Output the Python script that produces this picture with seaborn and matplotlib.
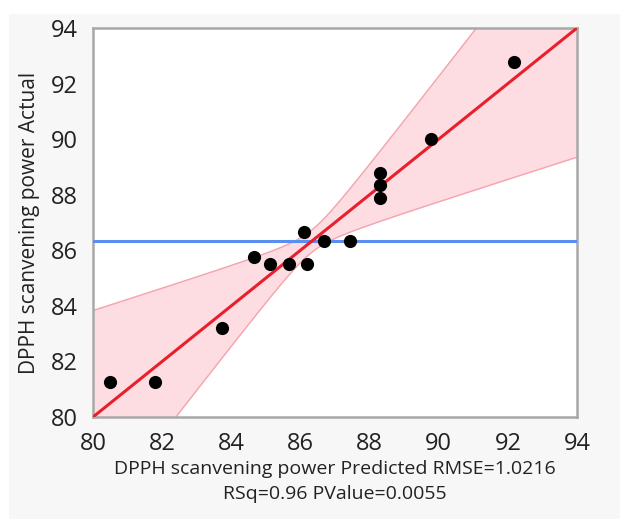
import matplotlib
matplotlib.use('Agg')
import matplotlib.pyplot as plt
import numpy as np
import pandas as pd
import seaborn as sns
from matplotlib.patches import Rectangle

# Data
predicted = [80.50, 81.79, 83.74, 84.65, 85.12, 85.66, 86.10, 86.19,
             86.69, 87.42, 88.31, 88.31, 88.31, 89.79, 92.19]
actual = [81.27, 81.27, 83.22, 85.75, 85.50, 85.50, 86.67, 85.50,
          86.35, 86.35, 88.77, 88.34, 87.87, 90.00, 92.76]
ticks = [80, 82, 84, 86, 88, 90, 92, 94]

# confidence curve shape (half width at center, slope far away)
band_center = 0.4
band_slope = 0.603

df = pd.DataFrame({'pred': predicted, 'act': actual})
lo, hi = ticks[0], ticks[-1]
xm = df['pred'].mean()
ym = df['act'].mean()

sns.set_style('white')
plt.rcParams['font.family'] = ['Open Sans', 'DejaVu Sans']

fig = plt.figure(figsize=(6.2, 5.19), dpi=100)
fig.patches.append(Rectangle((9 / 620, 0), 1, 1 - 14 / 519, transform=fig.transFigure,
                             facecolor='#f7f7f7', edgecolor='none', zorder=-10))
ax = fig.add_axes([93 / 620, 1 - 417 / 519, 484 / 620, 389 / 519])
ax.set_facecolor('white')

# confidence band around the fit line
grid = np.linspace(lo, hi, 200)
hw = np.sqrt(band_center ** 2 + (band_slope * (grid - xm)) ** 2)
ax.fill_between(grid, grid - hw, grid + hw, color='#fddde2', zorder=1)
ax.plot(grid, grid + hw, color='#f5a5ae', lw=1, zorder=2)
ax.plot(grid, grid - hw, color='#f5a5ae', lw=1, zorder=2)

# mean line and fit line
ax.axhline(ym, color='#5a8ef0', lw=2.2, zorder=3)
sns.lineplot(x=grid, y=grid, color='#e8202c', lw=2.2, ax=ax, zorder=4)

sns.scatterplot(x='pred', y='act', data=df, color='black', s=90,
                edgecolor='black', linewidth=0, ax=ax, zorder=5)

ax.set_xlim(lo, hi)
ax.set_ylim(lo, hi)
ax.set_xticks(ticks)
ax.set_yticks(ticks)
ax.tick_params(axis='both', direction='out', length=8, width=1.5, color='#a0a0a0',
               labelsize=17, labelcolor='#222222', pad=3)
for s in ax.spines.values():
    s.set_color('#a8a8a8')
    s.set_linewidth(1.8)

ax.set_xlabel('DPPH scanvening power Predicted RMSE=1.0216\nRSq=0.96 PValue=0.0055',
              fontsize=14, color='#222222', linespacing=1.5, labelpad=3)
ax.set_ylabel('DPPH scanvening power Actual', fontsize=15, color='#222222', labelpad=8)

fig.savefig('out.png', dpi=100)
